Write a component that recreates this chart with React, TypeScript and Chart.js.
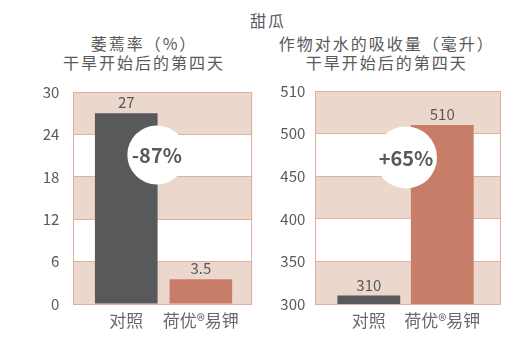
import React, { useEffect, useRef } from 'react';
import { Chart, registerables } from 'chart.js';

Chart.register(...registerables);

// ---- data ----
const mainTitle = '甜瓜';
const leftTitle = ['萎蔫率（%）', '干旱开始后的第四天'];
const rightTitle = ['作物对水的吸收量（毫升）', '干旱开始后的第四天'];
const categories = ['对照', '荷优®易钾'];
const wiltingRate = [27, 3.5];
const waterUptake = [310, 510];
const wiltingTickLabels = ['0', '6', '12', '18', '24', '30'];
const uptakeTickLabels = ['300', '350', '400', '450', '500', '510'];
const changeLabels = ['-87%', '+65%'];

// ---- styles ----
const FONT = "'Noto Sans CJK SC', 'Noto Sans', sans-serif";
const BAR_COLORS = ['#58595b', '#c87d69'];
const BAND = '#ecd7cd';
const LINE = '#dfb1a2';
const TEXT = '#58595b';

const bandsPlugin = {
  id: 'bands',
  beforeDraw(chart: any) {
    const { ctx, chartArea: a, scales } = chart;
    const y = scales.y;
    const ticks = y.ticks;
    ctx.save();
    ctx.fillStyle = '#ffffff';
    ctx.fillRect(a.left, a.top, a.right - a.left, a.bottom - a.top);
    ctx.fillStyle = BAND;
    for (let i = 0; i < ticks.length - 1; i++) {
      if (i % 2 !== 0) continue;
      const top = y.getPixelForValue(ticks[i + 1].value);
      const bottom = y.getPixelForValue(ticks[i].value);
      ctx.fillRect(a.left, top, a.right - a.left, bottom - top);
    }
    ctx.restore();
  },
  beforeDatasetsDraw(chart: any) {
    const { ctx, chartArea: a } = chart;
    ctx.save();
    ctx.strokeStyle = LINE;
    ctx.lineWidth = 1;
    ctx.beginPath();
    const l = Math.round(a.left) + 0.5;
    const r = Math.round(a.right) - 0.5;
    ctx.moveTo(l, a.top);
    ctx.lineTo(l, a.bottom);
    ctx.moveTo(r, a.top);
    ctx.lineTo(r, a.bottom);
    ctx.stroke();
    ctx.restore();
  },
};

const valuePlugin = {
  id: 'values',
  afterDatasetsDraw(chart: any) {
    const { ctx } = chart;
    const meta = chart.getDatasetMeta(0);
    const ds = chart.data.datasets[0];
    ctx.save();
    ctx.fillStyle = TEXT;
    ctx.font = `15px ${FONT}`;
    ctx.textAlign = 'center';
    ctx.textBaseline = 'bottom';
    meta.data.forEach((el: any, i: number) => {
      ctx.fillText(String(ds.data[i].y), el.x, el.y - 3);
    });
    ctx.restore();
  },
};

const badgePlugin = {
  id: 'badge',
  afterDatasetsDraw(chart: any, _args: any, opts: any) {
    if (!opts || !opts.text) return;
    const { ctx, scales } = chart;
    const cx = scales.x.getPixelForValue(opts.x);
    const cy = scales.y.getPixelForValue(opts.y);
    ctx.save();
    ctx.fillStyle = '#ffffff';
    ctx.beginPath();
    ctx.arc(cx, cy, opts.r, 0, Math.PI * 2);
    ctx.fill();
    ctx.fillStyle = TEXT;
    ctx.font = `bold 20px ${FONT}`;
    ctx.textAlign = 'center';
    ctx.textBaseline = 'middle';
    ctx.fillText(opts.text, cx, cy + 1);
    ctx.restore();
  },
};

function makeChart(canvas: HTMLCanvasElement, p: any) {
  return new Chart(canvas, {
    type: 'bar',
    data: {
      datasets: [
        {
          data: p.values.map((v: number, i: number) => ({ x: i, y: v })),
          backgroundColor: BAR_COLORS,
          borderWidth: 0,
          barPercentage: p.barPct,
          categoryPercentage: 1,
        },
      ],
    },
    options: {
      responsive: false,
      animation: false,
      layout: { padding: { top: p.padTop, right: p.padRight, left: 0, bottom: 0 } },
      plugins: {
        legend: { display: false },
        tooltip: { enabled: false },
        title: { display: false },
        badge: p.badge,
      } as any,
      scales: {
        x: {
          type: 'linear',
          offset: false,
          min: p.xMin,
          max: p.xMax,
          grid: { display: false, offset: false },
          border: { display: false },
          afterBuildTicks: (s: any) => {
            s.ticks = categories.map((_, i) => ({ value: i }));
          },
          afterFit: (s: any) => {
            s.height = 50;
            s.paddingLeft = 0;
            s.paddingRight = 0;
          },
          ticks: {
            autoSkip: false,
            maxRotation: 0,
            padding: -2,
            color: '#6a6a6a',
            font: { family: FONT, size: 17 },
            callback: (v: any) => categories[v] ?? '',
          },
        },
        y: {
          type: 'linear',
          min: p.yMin,
          max: p.yMax,
          afterFit: (s: any) => {
            s.width = p.yAxisWidth;
            s.paddingTop = 0;
            s.paddingBottom = 0;
          },
          grid: { color: LINE, lineWidth: 1, drawTicks: false },
          border: { display: false },
          ticks: {
            stepSize: p.step,
            padding: p.tickPadding,
            color: TEXT,
            font: { family: FONT, size: 15 },
            callback: (_v: any, i: number) => p.tickLabels[i],
          },
        },
      },
    } as any,
    plugins: [bandsPlugin, valuePlugin, badgePlugin],
  });
}

export default function App() {
  const leftRef = useRef<HTMLCanvasElement>(null);
  const rightRef = useRef<HTMLCanvasElement>(null);

  useEffect(() => {
    const left = makeChart(leftRef.current!, {
      values: wiltingRate,
      yMin: 0,
      yMax: 30,
      step: 6,
      tickLabels: wiltingTickLabels,
      xMin: -0.71,
      xMax: 1.69,
      barPct: 0.84,
      yAxisWidth: 73.3,
      tickPadding: 14,
      padTop: 12,
      padRight: 12.7,
      badge: { x: 0.41, y: 21.1, r: 29.5, text: changeLabels[0] },
    });
    const right = makeChart(rightRef.current!, {
      values: waterUptake,
      yMin: 300,
      yMax: 550,
      step: 50,
      tickLabels: uptakeTickLabels,
      xMin: -0.728,
      xMax: 1.795,
      barPct: 0.855,
      yAxisWidth: 50.3,
      tickPadding: 10,
      padTop: 11,
      padRight: 30.3,
      badge: { x: 0.506, y: 472, r: 31, text: changeLabels[1] },
    });
    return () => {
      left.destroy();
      right.destroy();
    };
  }, []);

  const titleStyle: React.CSSProperties = {
    position: 'absolute',
    fontFamily: FONT,
    fontSize: 16,
    letterSpacing: '2px',
    color: TEXT,
    textAlign: 'center',
    lineHeight: '19.5px',
    whiteSpace: 'nowrap',
  };

  return (
    <div
      style={{
        position: 'absolute',
        left: 0,
        top: 0,
        width: 531,
        height: 354,
        background: '#ffffff',
        overflow: 'hidden',
      }}
    >
      <div style={{ ...titleStyle, left: 0, width: 536, top: 10, lineHeight: '20px' }}>{mainTitle}</div>
      <div style={{ ...titleStyle, left: 2, width: 284, top: 33.5 }}>
        {leftTitle.map((t) => (
          <div key={t}>{t}</div>
        ))}
      </div>
      <div style={{ ...titleStyle, left: 272, width: 229.4, top: 33.5 }}>
        {rightTitle.map((t) => (
          <div key={t}>{t}</div>
        ))}
      </div>
      <canvas
        ref={leftRef}
        width={265}
        height={274}
        style={{ position: 'absolute', left: 0, top: 80, width: 265, height: 274 }}
      />
      <canvas
        ref={rightRef}
        width={266}
        height={274}
        style={{ position: 'absolute', left: 265, top: 80, width: 266, height: 274 }}
      />
    </div>
  );
}
